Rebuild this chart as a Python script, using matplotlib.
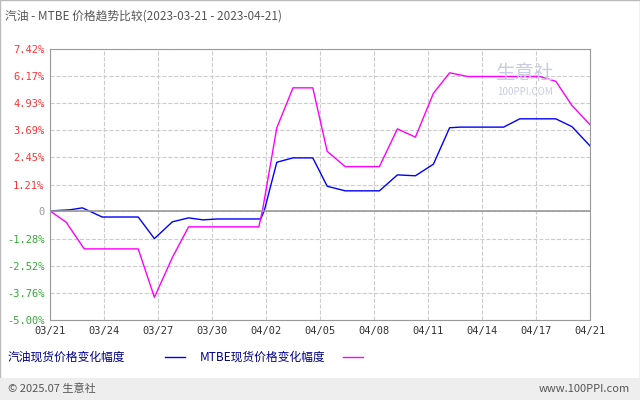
import matplotlib.pyplot as plt
from matplotlib.patches import Rectangle

plt.rcParams['font.family'] = ['Noto Sans CJK SC', 'DejaVu Sans']

# x positions in tick-units (one tick label every 3 units)
blue_x = [0, 1.1, 1.8, 2.9, 4.9, 5.8, 6.8, 7.7, 8.5, 9.3, 11.7, 11.9, 12.6, 13.5, 14.6, 15.4, 16.4, 18.3, 19.3, 20.3, 21.3, 22.2, 22.8, 25.2, 26.1, 28.1, 29.0, 30.0]
blue_y = [0, 0.05, 0.14, -0.28, -0.28, -1.27, -0.5, -0.32, -0.41, -0.37, -0.37, 0.0, 2.23, 2.43, 2.43, 1.13, 0.92, 0.92, 1.65, 1.61, 2.14, 3.81, 3.84, 3.84, 4.22, 4.22, 3.86, 2.98]
mag_x = [0, 0.9, 1.9, 4.9, 5.8, 6.8, 7.7, 11.6, 11.8, 12.6, 13.5, 14.6, 15.4, 16.4, 18.3, 19.3, 20.3, 21.3, 22.2, 23.2, 27.2, 28.1, 29.0, 30.0]
mag_y = [0, -0.52, -1.74, -1.74, -3.96, -2.13, -0.73, -0.73, 0.0, 3.81, 5.64, 5.64, 2.73, 2.03, 2.03, 3.76, 3.38, 5.39, 6.33, 6.16, 6.16, 5.94, 4.83, 3.95]
tick_labels = ['03/21', '03/24', '03/27', '03/30', '04/02', '04/05', '04/08', '04/11', '04/14', '04/17', '04/21']
y_ticks = [7.42, 6.17, 4.93, 3.69, 2.45, 1.21, 0, -1.28, -2.52, -3.76, -5.00]

fig = plt.figure(figsize=(6.4, 4.0), dpi=100)
fig.patches.append(Rectangle((0, 0), 1, 1, transform=fig.transFigure, fill=False, ec='#bbbbbb', lw=1))
fig.patches.append(Rectangle((0, 0), 1, 22 / 400, transform=fig.transFigure, fc='#eeeeee', ec='none'))
ax = fig.add_axes([50 / 640, 1 - 320 / 400, 540 / 640, 271 / 400])

ax.plot(blue_x, blue_y, color='#0000ff', lw=1)
ax.plot(mag_x, mag_y, color='#ff00ff', lw=1)
ax.axhline(0, color='#999999', lw=1.2)
ax.set_xlim(0, 30)
ax.set_ylim(-5.0, 7.42)
ax.set_xticks(range(0, 31, 3))
ax.set_xticklabels(tick_labels, fontsize=7.5, color='#333333', family='DejaVu Sans Mono')
ax.set_yticks(y_ticks)
labels = []
for v in y_ticks:
    labels.append('0' if v == 0 else f'{v:.2f}%')
ax.set_yticklabels(labels, fontsize=7.5, family='DejaVu Sans Mono')
for t, v in zip(ax.get_yticklabels(), y_ticks):
    t.set_color('#ff3333' if v > 0 else ('#999999' if v == 0 else '#33aa33'))
ax.tick_params(length=0, pad=4)
ax.grid(True, color='#cccccc', ls='--', lw=0.8)
for s in ax.spines.values():
    s.set_color('#999999')

ax.text(0.88, 0.91, '生意社', transform=ax.transAxes, fontsize=14, color='#c8cce0', ha='center', va='center')
ax.text(0.88, 0.84, '100PPI.COM', transform=ax.transAxes, fontsize=7, color='#c8cce0', ha='center', va='center')

fig.text(5 / 640, 1 - 16 / 400, '汽油 - MTBE 价格趋势比较(2023-03-21 - 2023-04-21)', fontsize=8.5, color='#555555', va='center')
fig.text(8 / 640, 1 - 357 / 400, '汽油现货价格变化幅度', fontsize=8.5, color='#000088', va='center')
fig.add_artist(plt.Line2D([165 / 640, 185 / 640], [1 - 357 / 400] * 2, color='#0000ff', lw=1))
fig.text(200 / 640, 1 - 357 / 400, 'MTBE现货价格变化幅度', fontsize=8.5, color='#000088', va='center')
fig.add_artist(plt.Line2D([343 / 640, 363 / 640], [1 - 357 / 400] * 2, color='#ff00ff', lw=1))
fig.text(8 / 640, 11 / 400, '© 2025.07 生意社', fontsize=8, color='#555555', va='center')
fig.text(630 / 640, 11 / 400, 'www.100PPI.com', fontsize=8, color='#555555', va='center', ha='right')

fig.savefig('out.png', dpi=100)
